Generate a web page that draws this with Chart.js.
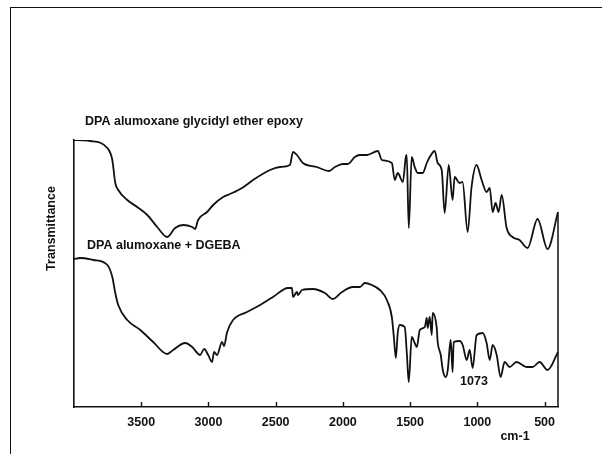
<!DOCTYPE html>
<html>
<head>
<meta charset="utf-8">
<script src="https://cdn.jsdelivr.net/npm/chart.js@4.4.1/dist/chart.umd.min.js"></script>
<style>
html,body{margin:0;padding:0;background:#fff;}
#wrap{position:relative;width:602px;height:454px;overflow:hidden;}
#frame{position:absolute;left:10px;top:7px;right:-5px;bottom:-5px;border-left:1.5px solid #111;border-top:1.5px solid #111;pointer-events:none;}
canvas{position:absolute;left:0;top:0;}
</style>
</head>
<body>
<div id="wrap">
<canvas id="c" width="602" height="454"></canvas>
<div id="frame"></div>
</div>
<script>
// Wavenumber ticks (cm-1)
const tickLabels = [3500, 3000, 2500, 2000, 1500, 1000, 500];

// Series 1: DPA alumoxane glycidyl ether epoxy (wavenumber, transmittance a.u.)
const epoxyWn = [4000,3879,3752,3715,3693,3671,3604,3530,3455,3381,3307,3248,3188,3121,3099,3077,3010,2965,2891,2839,2750,2668,2542,2468,2394,2371,2342,2297,2193,2104,2059,2000,1963,1911,1874,1822,1740,1710,1636,1614,1592,1554,1532,1525,1510,1488,1466,1443,1406,1376,1354,1317,1295,1265,1243,1213,1184,1169,1132,1110,1072,1043,1006,968,931,908,886,864,842,819,782,738,686,626,552,478,400];
const epoxyT = [267,266,259,247,224,217,207,200,192,180,170,179,182,180,178,187,195,202,210,213,219,227,237,240,242,255,252,244,240,236,240,243,243,250,252,252,256,247,244,227,234,225,250,252,179,250,240,234,234,244,250,256,244,237,194,242,207,230,224,225,175,220,242,227,215,219,195,204,195,212,179,170,167,159,188,158,195];

// Series 2: DPA alumoxane + DGEBA
const dgebaWn = [4000,3953,3856,3752,3715,3693,3671,3604,3507,3411,3307,3262,3173,3121,3062,3032,3002,2973,2958,2936,2899,2884,2861,2817,2713,2616,2520,2408,2379,2371,2342,2334,2304,2223,2134,2074,2007,1926,1874,1837,1785,1725,1673,1636,1621,1606,1592,1577,1540,1525,1510,1488,1466,1450,1428,1391,1376,1369,1354,1339,1332,1302,1295,1272,1257,1235,1220,1198,1184,1176,1131,1109,1079,1057,1035,1005,960,931,908,886,856,827,797,760,708,634,589,537,478,400];
const dgebaT = [148,149,147,142,130,114,102,87,77,65,53,57,64,60,52,58,52,45,55,52,65,61,75,87,95,102,110,119,119,110,115,112,117,118,114,108,115,120,120,124,122,117,107,90,70,49,74,82,80,55,25,70,64,60,77,80,89,79,90,72,94,79,65,52,37,30,37,67,35,65,66,62,47,57,39,72,74,64,47,62,52,30,45,40,45,40,40,45,37,55];

const seriesNames = ['DPA alumoxane glycidyl ether epoxy', 'DPA alumoxane + DGEBA'];
const peakLabel = '1073';
const xTitle = 'cm-1';
const yTitle = 'Transmittance';

const toPts = (xs, ys) => xs.map((x, i) => ({x: x, y: ys[i]}));
const FONT = '"Liberation Sans", Arial, Helvetica, sans-serif';

const deco = {
  id: 'deco',
  afterDraw(chart) {
    const {ctx, chartArea: ca, scales: {x, y}} = chart;
    ctx.save();
    // inward tick marks on x axis
    ctx.strokeStyle = '#111';
    ctx.lineWidth = 1.4;
    tickLabels.forEach(v => {
      const px = Math.round(x.getPixelForValue(v)) + 0.5;
      ctx.beginPath();
      ctx.moveTo(px, ca.bottom);
      ctx.lineTo(px, ca.bottom - 5);
      ctx.stroke();
    });
    // right frame line from last point of upper trace
    const meta = chart.getDatasetMeta(0);
    const last = meta.data[meta.data.length - 1];
    ctx.lineWidth = 1.5;
    ctx.beginPath();
    ctx.moveTo(ca.right, last.y);
    ctx.lineTo(ca.right, ca.bottom);
    ctx.stroke();
    // texts
    ctx.fillStyle = '#111';
    ctx.font = 'bold 12.5px ' + FONT;
    ctx.textBaseline = 'middle';
    ctx.textAlign = 'left';
    ctx.fillText(seriesNames[0], ca.left + 11, ca.top - 18);
    ctx.fillText(seriesNames[1], ca.left + 13, ca.top + 106);
    ctx.textAlign = 'center';
    ctx.fillText(peakLabel, ca.left + 400, ca.bottom - 25);
    ctx.fillText(xTitle, ca.left + 441, ca.bottom + 30);
    ctx.translate(ca.left - 22, (ca.top + ca.bottom) / 2 - 45);
    ctx.rotate(-Math.PI / 2);
    ctx.fillText(yTitle, 0, 0);
    ctx.restore();
  }
};

new Chart(document.getElementById('c'), {
  type: 'line',
  data: {
    datasets: [
      {label: seriesNames[0], data: toPts(epoxyWn, epoxyT), borderColor: '#111', borderWidth: 1.8, pointRadius: 0, cubicInterpolationMode: 'monotone', fill: false},
      {label: seriesNames[1], data: toPts(dgebaWn, dgebaT), borderColor: '#111', borderWidth: 1.8, pointRadius: 0, cubicInterpolationMode: 'monotone', fill: false}
    ]
  },
  options: {
    responsive: false,
    animation: false,
    devicePixelRatio: 1,
    layout: {padding: {left: 74, right: 44, top: 140, bottom: 0}},
    plugins: {legend: {display: false}, tooltip: {enabled: false}},
    scales: {
      x: {
        type: 'linear', reverse: true, min: 400, max: 4000,
        afterBuildTicks: s => { s.ticks = tickLabels.map(v => ({value: v})); },
        afterFit: s => { s.height = 47; },
        grid: {display: true, drawOnChartArea: false, drawTicks: false},
        border: {display: true, color: '#111', width: 1.6},
        ticks: {padding: 8, color: '#111', font: {family: FONT, size: 12.5, weight: 'bold'}, maxRotation: 0, autoSkip: false, callback: v => String(v)}
      },
      y: {
        min: 0, max: 267,
        afterFit: s => { s.width = 0; },
        grid: {display: false, drawTicks: false},
        border: {display: true, color: '#111', width: 1.6},
        ticks: {display: false}
      }
    }
  },
  plugins: [deco]
});
</script>
</body>
</html>
